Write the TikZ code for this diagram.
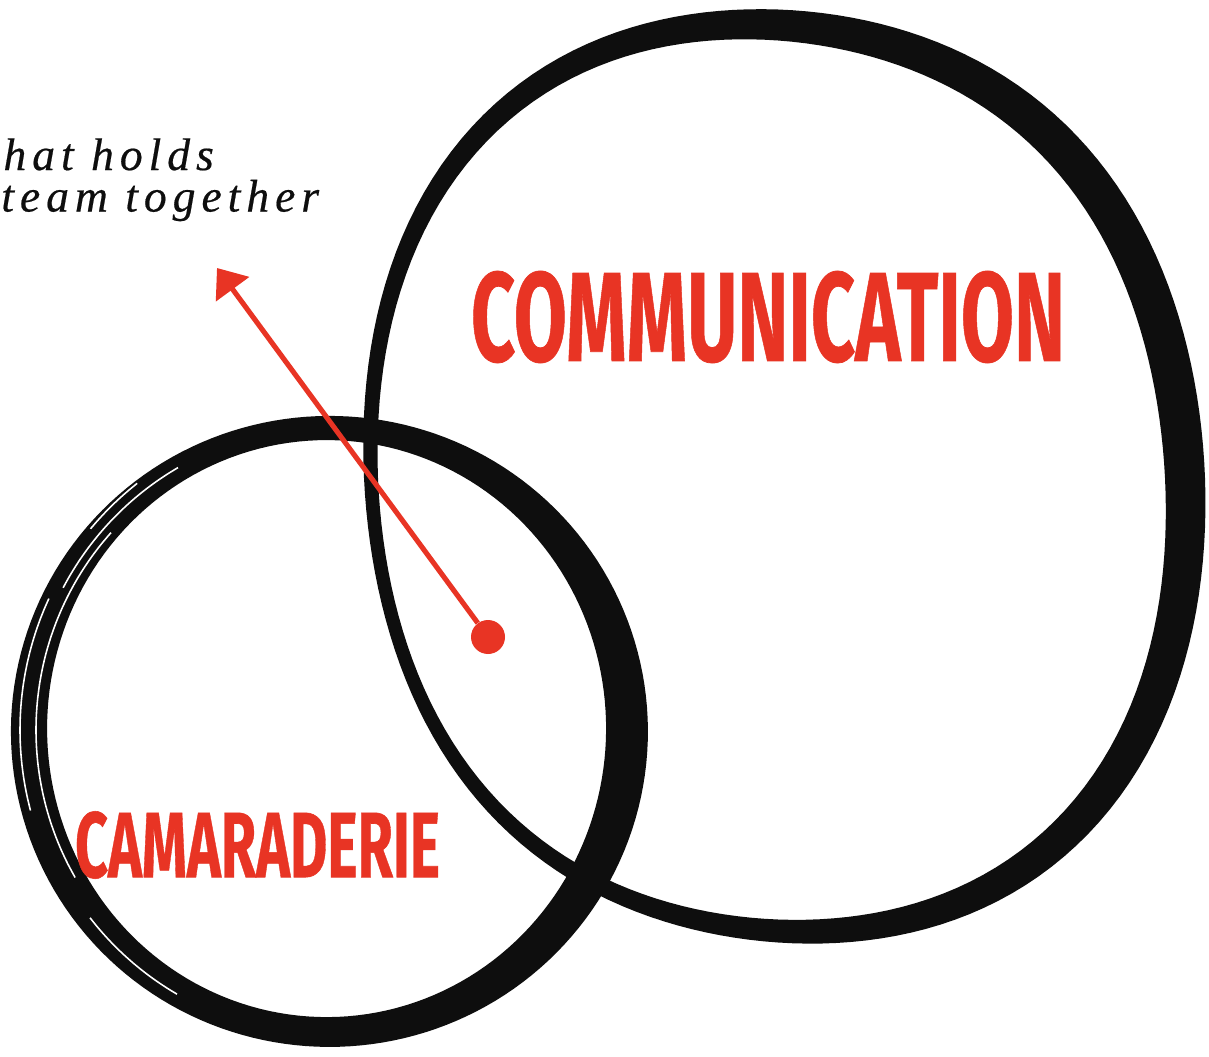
\documentclass[tikz,border=0pt]{standalone}
\usepackage{fontspec}
\usepackage{graphicx}
\usetikzlibrary{arrows.meta}
\newfontfamily\notefont[LetterSpace=13,FakeBold=0.4]{Liberation Serif}
\newfontfamily\capfont[BoldFeatures={FakeBold=0.6}]{Fira Sans}
\definecolor{accent}{RGB}{232,52,36}
\definecolor{ink}{RGB}{14,14,14}

\tikzset{
  declare function={
    bigt(\a)=27+13*cos(\a)-4*sin(\a);
    bigm(\a)=1+0.016*(1-cos(4*\a))+0.024*sin(2*\a);
    smt(\a)=33+6*cos(2*\a)+4*cos(\a-45);
  },
  captext/.style={inner sep=0pt, text=accent, font=\capfont\bfseries},
  notetext/.style={anchor=north west, inner sep=0pt, align=left, text=ink,
    font=\notefont\itshape\fontsize{26}{23.6}\selectfont},
  pointer/.style={draw=accent, line width=2.9pt, -{Triangle[length=15pt,width=23pt]}},
  dotnode/.style={circle, fill=accent, inner sep=0pt, minimum size=0.68cm},
  streak/.style={white, line width=0.9pt},
  ringpath/.style={ink, even odd rule}
}

\begin{document}
\begin{tikzpicture}[x=0.02cm,y=-0.02cm]
\useasboundingbox (0,0) rectangle (1209,1057);
\fill[white] (0,0) rectangle (1209,1057);

% big ring (communication)
\fill[ringpath]
  plot[domain=0:358, samples=180, variable=\q]
    ({778+(407*bigm(\q)+bigt(\q)/2)*cos(\q)}, {478+(453*bigm(\q)+bigt(\q)/2)*sin(\q)}) -- cycle
  plot[domain=0:358, samples=180, variable=\q]
    ({778+(407*bigm(\q)-bigt(\q)/2)*cos(\q)}, {478+(453*bigm(\q)-bigt(\q)/2)*sin(\q)}) -- cycle;

% small ring (camaraderie)
\fill[ringpath]
  plot[domain=0:358, samples=180, variable=\q]
    ({328+(299+smt(\q)/2)*cos(\q)}, {730+(302+smt(\q)/2)*sin(\q)}) -- cycle
  plot[domain=0:358, samples=180, variable=\q]
    ({328+(299-smt(\q)/2)*cos(\q)}, {730+(302-smt(\q)/2)*sin(\q)}) -- cycle;

% dry brush streaks on the small ring
\draw[streak] plot[smooth, domain=150:222, samples=25, variable=\q] ({328+292*cos(\q)},{730+295*sin(\q)});
\draw[streak] plot[smooth, domain=165:205, samples=20, variable=\q] ({328+308*cos(\q)},{730+311*sin(\q)});
\draw[streak] plot[smooth, domain=-152:-120, samples=15, variable=\q] ({328+300*cos(\q)},{730+303*sin(\q)});
\draw[streak] plot[smooth, domain=120:142, samples=12, variable=\q] ({328+302*cos(\q)},{730+305*sin(\q)});
\draw[streak] plot[smooth, domain=-140:-128, samples=8, variable=\q] ({328+310*cos(\q)},{730+313*sin(\q)});

% texts
\node[captext] (comm) at (768,317) {\resizebox{11.88cm}{1.8cm}{COMMUNICATION}};
\node[captext] (cama) at (257.5,845) {\resizebox{7.3cm}{1.32cm}{CAMARADERIE}};
\node[notetext] (note) at (1,138) {\hspace*{3\pgflinewidth}hat holds\\team together};

% pointer
\node[dotnode] (dot) at (488,637) {};
\coordinate (tip) at (217,268);
\draw[pointer] (dot) -- (tip);
\end{tikzpicture}
\end{document}
